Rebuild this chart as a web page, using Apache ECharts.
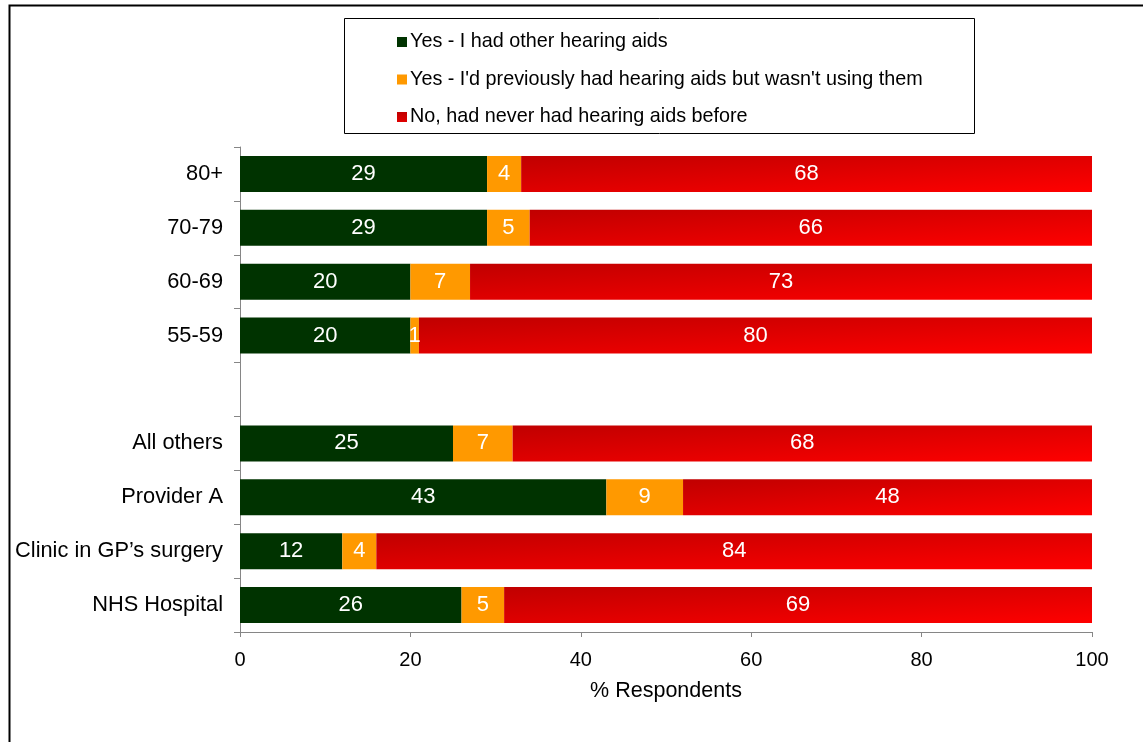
<!DOCTYPE html>
<html>
<head>
<meta charset="utf-8">
<script src="https://cdn.jsdelivr.net/npm/echarts@6/dist/echarts.min.js"></script>
<style>
html,body{margin:0;padding:0;background:#fff;}
#chart{width:1143px;height:742px;}
</style>
</head>
<body>
<div id="chart"></div>
<script>
const categories = ['80+', '70-79', '60-69', '55-59', '', 'All others', 'Provider A', 'Clinic in GP\u2019s surgery', 'NHS Hospital'];
const seriesNames = ['Yes - I had other hearing aids', "Yes - I'd previously had hearing aids but wasn't using them", 'No, had never had hearing aids before'];
const hadOther = [29, 29, 20, 20, '-', 25, 43, 12, 26];
const prevNotUsing = [4, 5, 7, 1, '-', 7, 9, 4, 5];
const never = [68, 66, 73, 80, '-', 68, 48, 84, 69];
const xTicks = [0, 20, 40, 60, 80, 100];

const FONT = "'Liberation Sans', Arial, sans-serif";
const BAR_W = 36;
const chart = echarts.init(document.getElementById('chart'), null, {renderer: 'canvas'});

function redGrad(x2, y2) {
  return new echarts.graphic.LinearGradient(0, 0, x2, y2, [
    {offset: 0, color: '#C00000'},
    {offset: 1, color: '#FF0000'}
  ]);
}

function labelCfg() {
  return {
    show: true,
    position: 'inside',
    color: '#ffffff',
    fontSize: 22,
    fontFamily: FONT,
    formatter: '{c}'
  };
}

const option = {
  animation: false,
  backgroundColor: '#ffffff',
  textStyle: {fontFamily: FONT},
  graphic: [
    {type: 'rect', left: 7, top: 3, shape: {width: 1200, height: 800}, style: {fill: 'none', stroke: '#000', lineWidth: 2}, silent: true, z: 0},
    {type: 'rect', left: 344, top: 18, shape: {width: 630, height: 115}, style: {fill: '#fff', stroke: '#000', lineWidth: 1}, silent: true, z: 1}
  ],
  legend: {
    orient: 'vertical',
    left: 397,
    top: 32,
    itemWidth: 10,
    itemHeight: 10,
    itemGap: 17.5,
    padding: 0,
    icon: 'rect',
    textStyle: {fontSize: 19.8, lineHeight: 20, color: '#000', fontFamily: FONT, padding: [0, 0, 0, -2]},
    data: seriesNames,
    z: 5
  },
  grid: {left: 240, right: 51, top: 147, bottom: 110, containLabel: false},
  xAxis: {
    type: 'value',
    min: 0,
    max: 100,
    interval: 20,
    splitLine: {show: false},
    axisLine: {show: true, lineStyle: {color: '#868686', width: 1}},
    axisTick: {show: true, length: 5, lineStyle: {color: '#868686'}},
    axisLabel: {
      fontSize: 20, color: '#000', margin: 18, fontFamily: FONT,
      formatter: function (v) { return xTicks.indexOf(v) >= 0 ? String(v) : ''; }
    },
    name: '% Respondents',
    nameLocation: 'middle',
    nameGap: 48,
    nameTextStyle: {fontSize: 21.5, color: '#000', fontFamily: FONT}
  },
  yAxis: {
    type: 'category',
    inverse: true,
    data: categories,
    axisLine: {show: true, lineStyle: {color: '#868686', width: 1}},
    axisTick: {show: true, length: 6, alignWithLabel: false, lineStyle: {color: '#868686'}},
    axisLabel: {fontSize: 21.8, color: '#000', margin: 17, fontFamily: FONT},
    splitLine: {show: false}
  },
  series: [
    {name: seriesNames[0], type: 'bar', stack: 'total', data: hadOther, barWidth: BAR_W,
     itemStyle: {color: '#003300'}, label: labelCfg()},
    {name: seriesNames[1], type: 'bar', stack: 'total', data: prevNotUsing, barWidth: BAR_W,
     itemStyle: {color: '#FF9900'}, label: labelCfg()},
    {name: seriesNames[2], type: 'bar', stack: 'total', data: never, barWidth: BAR_W,
     itemStyle: {color: redGrad(0.008, 2)}, label: labelCfg(), clip: true}
  ]
};
chart.setOption(option);

// Per-bar diagonal shading of the red segments: gradient direction depends on each bar's drawn length
const redData = never.map(function (v, i) {
  if (v === '-') return v;
  const start = (hadOther[i] || 0) + (prevNotUsing[i] || 0);
  const end = Math.min(100, start + v);
  const w = Math.abs(chart.convertToPixel({xAxisIndex: 0}, end) - chart.convertToPixel({xAxisIndex: 0}, start));
  const h = BAR_W;
  const d = w * w + h * h;
  return {value: v, itemStyle: {color: redGrad(2 * h * h / d, 2 * w * w / d)}};
});
chart.setOption({series: [{}, {}, {data: redData}]});
</script>
</body>
</html>
